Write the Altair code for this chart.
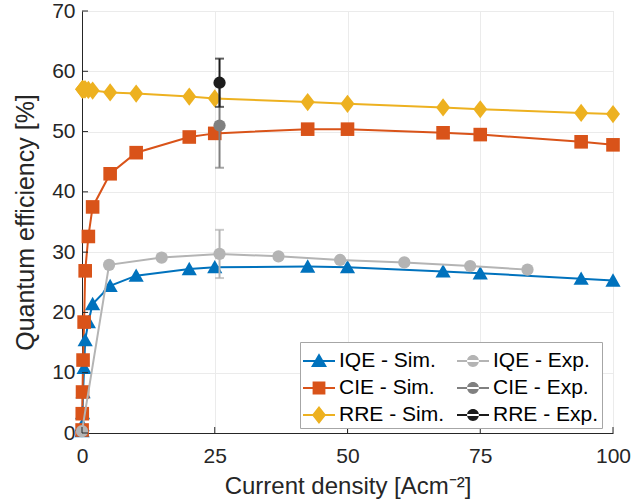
import altair as alt
import pandas as pd

# ---------------- data ----------------
sim_x = [0.02, 0.05, 0.1, 0.2, 0.4, 0.6, 1.2, 2, 5.3, 10.2, 20.2, 25, 42.5, 50, 68, 75, 94, 100]
iqe_sim = [0.3, 1.3, 3.3, 6.8, 10.8, 15.4, 18.4, 21.4, 24.4, 26.1, 27.2, 27.5, 27.6, 27.5, 26.8, 26.5, 25.6, 25.3]
cie_sim = [0.5, 3.2, 6.8, 12.1, 18.4, 26.9, 32.6, 37.5, 43.0, 46.5, 49.1, 49.7, 50.4, 50.4, 49.8, 49.5, 48.3, 47.8]
rre_sim = [57.0, 57.0, 57.0, 57.0, 57.0, 57.0, 56.9, 56.8, 56.5, 56.3, 55.8, 55.5, 54.9, 54.6, 54.0, 53.7, 53.1, 52.9]

iqe_exp_x = [0, 5.1, 15.0, 25.9, 37.0, 48.6, 60.7, 73.1, 83.9]
iqe_exp = [0.3, 27.9, 29.1, 29.7, 29.3, 28.7, 28.3, 27.7, 27.1]
cie_exp_x = [25.9]
cie_exp = [51.0]
rre_exp_x = [25.9]
rre_exp = [58.1]

err_series = ["IQE - Exp.", "CIE - Exp.", "RRE - Exp."]
err_x = [25.9, 25.9, 25.9]
err_lo = [25.7, 44.0, 54.1]
err_hi = [33.7, 58.0, 62.1]

series_order = ["IQE - Sim.", "CIE - Sim.", "RRE - Sim.", "IQE - Exp.", "CIE - Exp.", "RRE - Exp."]
series_colors = ["#0072BD", "#D95319", "#EDB120", "#B4B4B4", "#808080", "#1C1C1C"]

x_ticks = [0, 25, 50, 75, 100]
y_ticks = [0, 10, 20, 30, 40, 50, 60, 70]

W, H = 531, 422

# ---------------- tables ----------------
rows = []
for name, xs, ys in [
    ("IQE - Sim.", sim_x, iqe_sim),
    ("CIE - Sim.", sim_x, cie_sim),
    ("RRE - Sim.", sim_x, rre_sim),
    ("IQE - Exp.", iqe_exp_x, iqe_exp),
    ("CIE - Exp.", cie_exp_x, cie_exp),
    ("RRE - Exp.", rre_exp_x, rre_exp),
]:
    for i, (xv, yv) in enumerate(zip(xs, ys)):
        rows.append({"series": name, "x": xv, "y": yv, "i": i})
df = pd.DataFrame(rows)
err_df = pd.DataFrame({"series": err_series, "x": err_x, "lo": err_lo, "hi": err_hi})
xt_df = pd.DataFrame({"t": x_ticks})
yt_df = pd.DataFrame({"t": y_ticks})
leg_df = pd.DataFrame({"series": series_order})

font = "Liberation Sans"
txt = "#262626"

xscale = alt.Scale(domain=[0, 100], nice=False, zero=False)
yscale = alt.Scale(domain=[0, 70], nice=False)
cscale = alt.Scale(domain=series_order, range=series_colors)

X = alt.X("x:Q", scale=xscale, axis=alt.Axis(
    values=x_ticks, title="Current density [Acm⁻²]", grid=True, tickSize=0, labelFlush=False,
    labelFontSize=21, titleFontSize=24, labelPadding=12, titlePadding=8,
    labelColor=txt, titleColor=txt, domainColor=txt, domainWidth=1,
    labelFont=font, titleFont=font, gridColor="#EBEBEB", titleFontWeight="normal"))
Y = alt.Y("y:Q", scale=yscale, axis=alt.Axis(
    values=y_ticks, title="Quantum efficiency [%]", grid=True, tickSize=0, labelFlush=False,
    labelFontSize=21, titleFontSize=25, labelPadding=7, titlePadding=13,
    labelColor=txt, titleColor=txt, domainColor=txt, domainWidth=1,
    labelFont=font, titleFont=font, gridColor="#EBEBEB", titleFontWeight="normal"))

base = alt.Chart(df)
col = alt.Color("series:N", scale=cscale)

sim_names = ["IQE - Sim.", "CIE - Sim.", "RRE - Sim."]
lines_sim = base.transform_filter(alt.FieldOneOfPredicate(field="series", oneOf=sim_names)).mark_line(strokeWidth=2).encode(
    x=X, y=Y, color=col, order="i:Q")
lines_exp = base.transform_filter(alt.FieldEqualPredicate(field="series", equal="IQE - Exp.")).mark_line(strokeWidth=2).encode(
    x=X, y=Y, color=col, order="i:Q")

def pts(names, shape, size):
    return base.transform_filter(alt.FieldOneOfPredicate(field="series", oneOf=names)).mark_point(
        filled=True, opacity=1, shape=shape, size=size, strokeWidth=0).encode(x=X, y=Y, color=col)

tri = pts(["IQE - Sim."], "M0,-1L1.05,0.85L-1.05,0.85Z", 210)
sq = pts(["CIE - Sim."], "square", 185)
dia = pts(["RRE - Sim."], "M0,-1.3L1,0L0,1.3L-1,0Z", 196)
circ = pts(["IQE - Exp.", "CIE - Exp.", "RRE - Exp."], "circle", 150)

eb = alt.Chart(err_df)
err_rule = eb.mark_rule(strokeWidth=2).encode(
    x=alt.X("x:Q", scale=xscale), y=alt.Y("lo:Q", scale=yscale), y2="hi:Q", color=col)
err_cap_lo = eb.mark_tick(orient="horizontal", size=9, thickness=2).encode(
    x=alt.X("x:Q", scale=xscale), y=alt.Y("lo:Q", scale=yscale), color=col)
err_cap_hi = eb.mark_tick(orient="horizontal", size=9, thickness=2).encode(
    x=alt.X("x:Q", scale=xscale), y=alt.Y("hi:Q", scale=yscale), color=col)

# inward ticks
xt = alt.Chart(xt_df).mark_rule(color=txt, strokeWidth=1).encode(
    x=alt.X("t:Q", scale=xscale), y=alt.value(H), y2=alt.value(H - 6))
yt = alt.Chart(yt_df).mark_rule(color=txt, strokeWidth=1).encode(
    y=alt.Y("t:Q", scale=yscale), x=alt.value(0), x2=alt.value(6))

# legend carrier layer (no visible marks: filtered to empty)
ln = "M-1,-0.065H1V0.065H-1Z"
circ_path = "M-0.37,0A0.37,0.37 0 1,0 0.37,0A0.37,0.37 0 1,0 -0.37,0Z"
legend_shapes = [
    ln + "M0,-0.49L0.5,0.38H-0.5Z",
    ln + "M-0.4,-0.4H0.4V0.4H-0.4Z",
    ln + "M0,-0.56L0.44,0L0,0.56L-0.44,0Z",
    ln + circ_path,
    ln + circ_path,
    ln + circ_path,
]
leg = alt.Legend(
    title=None, orient="none", legendX=218, legendY=331, columns=2, direction="vertical",
    labelFontSize=21, labelFont=font, labelColor="#000000",
    symbolSize=1024, symbolOpacity=1, symbolStrokeWidth=0, symbolType="circle",
    strokeColor="#A6A6A6", fillColor="#FFFFFF", padding=3,
    rowPadding=1, columnPadding=13, labelOffset=4, labelLimit=300)
legend_layer = alt.Chart(leg_df).transform_filter("datum.series == 'none'").mark_point(
    filled=True, size=1024).encode(
    color=alt.Color("series:N", scale=cscale, legend=leg),
    shape=alt.Shape("series:N", scale=alt.Scale(domain=series_order, range=legend_shapes), legend=leg),
)

chart = alt.layer(
    legend_layer, lines_sim, tri, sq, dia, lines_exp, err_rule, err_cap_lo, err_cap_hi, circ, xt, yt
).properties(
    width=W, height=H,
    autosize=alt.AutoSizeParams(type="none"),
    padding={"left": 82, "top": 11, "right": 30, "bottom": 71},
).configure_view(stroke=None).configure(background="white")

chart.save("out.html", embed_options={"renderer": "svg", "actions": False})
